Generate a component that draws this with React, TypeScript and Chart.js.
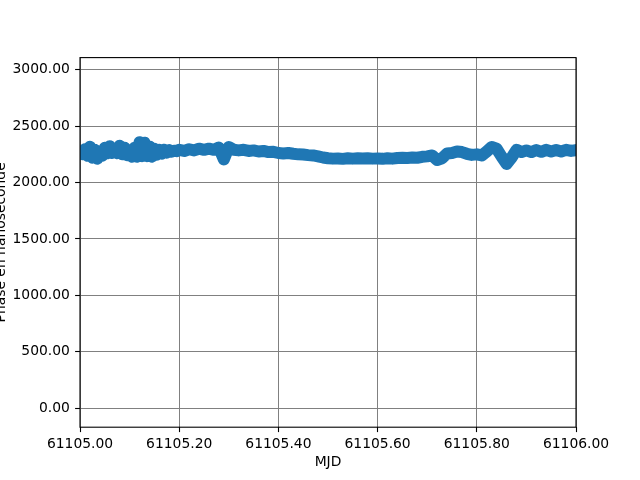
import React, { useEffect, useRef } from "react";
import { Chart, registerables } from "chart.js";

Chart.register(...registerables);

const MJD = [
  61105.0, 61105.005, 61105.01, 61105.015, 61105.02, 61105.025, 61105.03, 61105.035, 61105.04, 61105.045,
  61105.05, 61105.055, 61105.06, 61105.065, 61105.07, 61105.075, 61105.08, 61105.085, 61105.09, 61105.095,
  61105.1, 61105.105, 61105.11, 61105.115, 61105.12, 61105.125, 61105.13, 61105.135, 61105.14, 61105.145,
  61105.15, 61105.155, 61105.16, 61105.165, 61105.17, 61105.175, 61105.18, 61105.185, 61105.19, 61105.195,
  61105.2, 61105.21, 61105.22, 61105.23, 61105.24, 61105.25, 61105.26, 61105.27, 61105.28, 61105.29,
  61105.3, 61105.31, 61105.32, 61105.33, 61105.34, 61105.35, 61105.36, 61105.37, 61105.38, 61105.39,
  61105.4, 61105.41, 61105.42, 61105.43, 61105.44, 61105.45, 61105.46, 61105.47, 61105.48, 61105.49,
  61105.5, 61105.51, 61105.52, 61105.53, 61105.54, 61105.55, 61105.56, 61105.57, 61105.58, 61105.59,
  61105.6, 61105.61, 61105.62, 61105.63, 61105.64, 61105.65, 61105.66, 61105.67, 61105.68, 61105.69,
  61105.7, 61105.71, 61105.72, 61105.73, 61105.74, 61105.75, 61105.76, 61105.77, 61105.78, 61105.79,
  61105.8, 61105.81, 61105.82, 61105.83, 61105.84, 61105.85, 61105.86, 61105.87, 61105.88, 61105.89,
  61105.9, 61105.91, 61105.92, 61105.93, 61105.94, 61105.95, 61105.96, 61105.97, 61105.98, 61105.99,
  61106.0,
];

const PHASE = [
  2256, 2251, 2296, 2238, 2318, 2220, 2291, 2211, 2274, 2238,
  2309, 2259, 2322, 2262, 2291, 2260, 2327, 2251, 2309, 2242,
  2274, 2229, 2309, 2229, 2358, 2234, 2353, 2234, 2318, 2229,
  2300, 2247, 2291, 2256, 2291, 2265, 2287, 2274, 2282, 2278,
  2290, 2280, 2295, 2285, 2300, 2290, 2300, 2290, 2310, 2205,
  2315, 2290, 2285, 2290, 2280, 2285, 2275, 2280, 2270, 2272,
  2262, 2258, 2262, 2255, 2250, 2248, 2243, 2240, 2232, 2222,
  2215, 2212, 2214, 2210, 2215, 2212, 2215, 2213, 2215, 2212,
  2213, 2210, 2215, 2212, 2218, 2220, 2218, 2222, 2220, 2228,
  2232, 2240, 2200, 2215, 2258, 2262, 2275, 2270, 2255, 2245,
  2250, 2240, 2275, 2315, 2300, 2230, 2165, 2220, 2290, 2270,
  2285, 2270, 2288, 2272, 2290, 2275, 2288, 2275, 2290, 2280,
  2288,
];

const X_TICKS = [61105.0, 61105.2, 61105.4, 61105.6, 61105.8, 61106.0];
const Y_TICKS = [0, 500, 1000, 1500, 2000, 2500, 3000];
const X_LABEL = "MJD";
const Y_LABEL = "Phase en nanoseconde";

export default function App() {
  const ref = useRef<HTMLCanvasElement>(null);

  useEffect(() => {
    if (!ref.current) return;
    const font = { family: "'DejaVu Sans'", size: 13.89, lineHeight: 1.2 };

    const spines = {
      id: "spines",
      afterDatasetsDraw(chart: any) {
        const { ctx, chartArea } = chart;
        const { left, right, top, bottom } = chartArea;
        ctx.save();
        ctx.strokeStyle = "#000";
        ctx.lineWidth = 1.1;
        ctx.strokeRect(left, top, right - left, bottom - top);
        ctx.restore();
      },
    };

    const chart = new Chart(ref.current, {
      type: "line",
      data: {
        datasets: [
          {
            data: MJD.map((x, i) => ({ x, y: PHASE[i] })),
            borderColor: "#1f77b4",
            backgroundColor: "#1f77b4",
            borderWidth: 12,
            pointRadius: 0,
            borderCapStyle: "round",
            borderJoinStyle: "round",
            tension: 0,
            clip: 0,
          } as any,
        ],
      },
      options: {
        responsive: false,
        animation: false,
        devicePixelRatio: 1,
        layout: { padding: { top: 57.6, right: 64, left: 0, bottom: 0 } },
        plugins: { legend: { display: false }, tooltip: { enabled: false } },
        scales: {
          x: {
            type: "linear",
            min: 61105,
            max: 61106,
            afterBuildTicks: (s: any) => {
              s.ticks = X_TICKS.map((v) => ({ value: v }));
            },
            afterFit: (s: any) => {
              s.height = 52.8;
            },
            ticks: {
              callback: (v: any) => Number(v).toFixed(2),
              color: "#000",
              font,
              padding: 3.5,
              maxRotation: 0,
              autoSkip: false,
            },
            grid: {
              color: "#808080",
              lineWidth: 1,
              tickColor: "#000",
              tickLength: 4.9,
              tickWidth: 1.1,
            },
            border: { display: false },
            title: {
              display: true,
              text: X_LABEL,
              color: "#000",
              font,
              padding: { top: 0, bottom: 8.8 },
            },
          },
          y: {
            type: "linear",
            min: -170,
            max: 3108,
            afterBuildTicks: (s: any) => {
              s.ticks = Y_TICKS.map((v) => ({ value: v }));
            },
            afterFit: (s: any) => {
              s.width = 80;
            },
            ticks: {
              callback: (v: any) => Number(v).toFixed(2),
              color: "#000",
              font,
              padding: 5.2,
              autoSkip: false,
            },
            grid: {
              color: "#808080",
              lineWidth: 1,
              tickColor: "#000",
              tickLength: 4.9,
              tickWidth: 1.1,
            },
            border: { display: false },
            title: {
              display: true,
              text: Y_LABEL,
              color: "#000",
              font,
              padding: { top: -7.4, bottom: 0 },
            },
          },
        },
      } as any,
      plugins: [spines],
    });

    return () => chart.destroy();
  }, []);

  return (
    <div style={{ position: "fixed", left: 0, top: 0, width: 640, height: 480, background: "#fff" }}>
      <canvas ref={ref} width={640} height={480} style={{ width: 640, height: 480, display: "block" }} />
    </div>
  );
}
